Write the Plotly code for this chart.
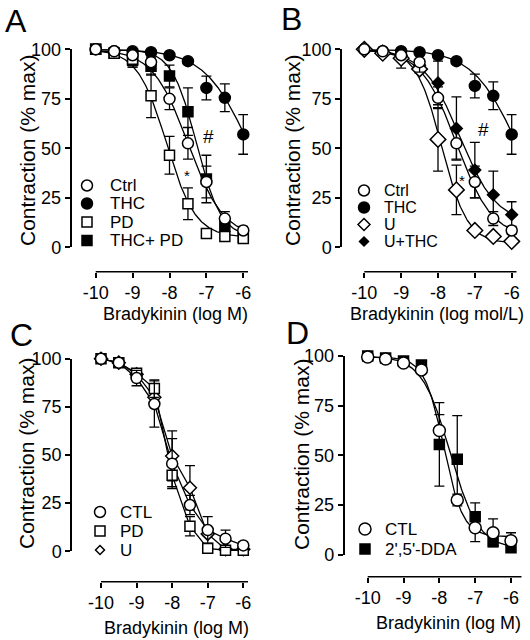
import numpy as np
import plotly.graph_objects as go

W, H = 530, 640
FONT = "Liberation Sans, Arial, sans-serif"

# ---------------- data ----------------
log_conc = [-10, -9.5, -9, -8.5, -8, -7.5, -7, -6.5, -6]
x_ticks = [-10, -9, -8, -7, -6]
y_ticks = [0, 25, 50, 75, 100]

# Panel A
a_ctrl = [100, 99, 97, 93.5, 75, 52.5, 33, 14.5, 8.5]
a_ctrl_err = [0, 0.5, 1, 1.5, 5.5, 8, 8, 3.5, 2]
a_thc = [100, 99, 99, 98.5, 97, 94, 80.5, 75.5, 57]
a_thc_err = [0, 0, 0.5, 0.5, 1, 1, 6, 7, 10]
a_pd = [100, 98, 95, 76.5, 46.5, 22, 7, 5.5, 4.5]
a_pd_err = [0, 1, 4, 11, 9.5, 8, 1, 1, 1]
a_thcpd = [100, 98, 94.5, 91.5, 86.5, 68.5, 34.5, 10.5, 5]
a_thcpd_err = [0, 1, 3.5, 4.5, 5.5, 12, 12, 3, 1.5]

# Panel B
b_ctrl = [100, 99, 97, 93.5, 75.5, 52.5, 33, 14.5, 8.5]
b_ctrl_err = [0, 0.5, 1, 5, 5.5, 8, 8, 3.5, 2]
b_thc = [100, 99, 99, 98.5, 97, 94, 81.5, 76.5, 57]
b_thc_err = [0, 0, 0.5, 0.5, 1, 1, 6, 7, 10]
b_u = [100, 98, 95.5, 90, 54.5, 29, 8.5, 5.5, 3]
b_u_err = [0, 1, 5, 2, 16, 12.5, 1, 1, 1]
b_uthc = [100, 99, 97, 92, 83, 60, 39, 26.5, 16.5]
b_uthc_err = [0, 0.5, 2, 3, 11, 16, 14, 12, 6.5]

# Panel C
c_ctl = [100, 98, 90, 76.5, 45.5, 24, 11, 6.5, 3]
c_ctl_err = [0, 1, 4, 12, 13, 5, 7, 4.5, 2]
c_pd = [100, 98, 92.5, 84.5, 39.5, 13, 1.5, 0.5, 0.5]
c_pd_err = [0, 1, 2, 4.5, 6, 5, 1, 0.5, 0.5]
c_u = [100, 98, 92, 80, 49.5, 33, 9, 1, 1]
c_u_err = [0, 1, 2, 4, 13, 11.5, 1, 0.5, 0.5]

# Panel D
d_ctl = [99.5, 98.5, 96.5, 93, 62.5, 27.5, 13.5, 11, 7]
d_ctl_err = [0.5, 0.5, 1, 1.5, 8, 3, 7, 7, 4]
d_dda = [100, 99, 97.5, 95.5, 55.5, 48, 19, 6.5, 3.5]
d_dda_err = [0, 0.5, 1, 1, 21, 22, 7, 2, 1.5]

# sigmoid fit parameters: (top, bottom, logIC50, hill slope)
fit_a_ctrl = (100, 5, -7.5, 0.9)
fit_a_thc = (100, 0, -5.8, 0.7)
fit_a_pd = (100, 5, -8.08, 1.1)
fit_a_thcpd = (100, 5, -7.27, 1.3)
fit_b_u = (100, 2, -7.9, 1.25)
fit_b_uthc = (100, 12, -7.41, 0.87)
fit_d_ctl = (99.5, 9, -7.88, 1.6)
fit_d_dda = (100, 3, -7.7, 1.1)

labels_a = ["Ctrl", "THC", "PD", "THC+ PD"]
labels_b = ["Ctrl", "THC", "U", "U+THC"]
labels_c = ["CTL", "PD", "U"]
labels_d = ["CTL", "2',5'-DDA"]

# ---------------- helpers (window pixels -> paper) ----------------
def fx(px):
    return px / W

def fy(py):
    return 1 - py / H

fig = go.Figure()
shapes = []
annotations = []

# panel geometry in window pixels
panels = {
    "A": dict(ax=71.5, y100=49.3, y0=247.3, xline=271.7, xm10=95.7, xm6=243.3, xend=248.0),
    "B": dict(ax=342.0, y100=49.3, y0=247.3, xline=271.7, xm10=364.3, xm6=511.7, xend=516.7),
    "C": dict(ax=72.0, y100=358.8, y0=551.2, xline=581.7, xm10=101.0, xm6=243.3, xend=248.0),
    "D": dict(ax=344.5, y100=356.0, y0=554.6, xline=576.7, xm10=367.7, xm6=511.0, xend=521.7),
}
axis_ids = {"A": "", "B": "2", "C": "3", "D": "4"}

layout_axes = {}
for key, g in panels.items():
    sfx = axis_ids[key]
    per_unit = (g["xm6"] - g["xm10"]) / 4.0
    x_end = -10 + (g["xend"] - g["xm10"]) / per_unit
    x_left = -10 - (g["xm10"] - g["ax"]) / per_unit
    layout_axes["xaxis" + sfx] = dict(
        domain=[fx(g["ax"]), fx(g["xend"])], range=[x_left, x_end],
        anchor="free", position=fy(g["xline"]), automargin=False,
        tickvals=x_ticks, ticktext=[str(t) for t in x_ticks],
        ticks="outside", ticklen=5, tickwidth=1.5, tickcolor="black",
        showline=False, showgrid=False, zeroline=False,
        tickfont=dict(family=FONT, size=18, color="black"),
    )
    layout_axes["yaxis" + sfx] = dict(
        domain=[fy(g["y0"]), fy(g["y100"])], range=[0, 100],
        anchor="x" + sfx, automargin=False,
        tickvals=y_ticks, ticktext=[str(t) for t in y_ticks],
        ticks="outside", ticklen=5, tickwidth=1.5, tickcolor="black",
        showline=True, linecolor="black", linewidth=1.5,
        showgrid=False, zeroline=False,
        tickfont=dict(family=FONT, size=18, color="black"),
    )
    # offset x-axis baseline, running from -10 to the end of the axis
    shapes.append(dict(type="line", xref="x" + sfx, yref="paper",
                       x0=-10, x1=x_end, y0=fy(g["xline"]), y1=fy(g["xline"]),
                       line=dict(color="black", width=1.5)))

grid = np.linspace(-10, -6, 241)

def fit_curve(params):
    top, bottom, logic50, hill = params
    return bottom + (top - bottom) / (1 + 10 ** ((grid - logic50) * hill))

def add_curve(params, key):
    sfx = axis_ids[key]
    fig.add_trace(go.Scatter(
        x=grid, y=fit_curve(params), mode="lines",
        line=dict(color="black", width=1.3),
        xaxis="x" + sfx, yaxis="y" + sfx, showlegend=False, hoverinfo="skip"))

def add_lines(vals, key):
    sfx = axis_ids[key]
    fig.add_trace(go.Scatter(
        x=log_conc, y=vals, mode="lines",
        line=dict(color="black", width=1.3),
        xaxis="x" + sfx, yaxis="y" + sfx, showlegend=False, hoverinfo="skip"))

def add_points(vals, err, key, symbol, filled, size, name):
    sfx = axis_ids[key]
    fig.add_trace(go.Scatter(
        x=log_conc, y=vals, mode="markers", name=name,
        marker=dict(symbol=symbol, size=size,
                    color="black" if filled else "white",
                    line=dict(color="black", width=1.5)),
        error_y=dict(type="data", array=err, color="black", thickness=1.3, width=5),
        cliponaxis=False, xaxis="x" + sfx, yaxis="y" + sfx, showlegend=False))

# Panel A
for p in (fit_a_ctrl, fit_a_thc, fit_a_pd, fit_a_thcpd):
    add_curve(p, "A")
add_points(a_thc, a_thc_err, "A", "circle", True, 11, labels_a[1])
add_points(a_thcpd, a_thcpd_err, "A", "square", True, 10, labels_a[3])
add_points(a_pd, a_pd_err, "A", "square", False, 10, labels_a[2])
add_points(a_ctrl, a_ctrl_err, "A", "circle", False, 11, labels_a[0])

# Panel B
for p in (fit_a_ctrl, fit_a_thc, fit_b_u, fit_b_uthc):
    add_curve(p, "B")
add_points(b_thc, b_thc_err, "B", "circle", True, 11, labels_b[1])
add_points(b_uthc, b_uthc_err, "B", "diamond", True, 9, labels_b[3])
add_points(b_u, b_u_err, "B", "diamond", False, 12, labels_b[2])
add_points(b_ctrl, b_ctrl_err, "B", "circle", False, 11, labels_b[0])

# Panel C (points joined by straight lines)
for v in (c_u, c_pd, c_ctl):
    add_lines(v, "C")
add_points(c_u, c_u_err, "C", "diamond", False, 10, labels_c[2])
add_points(c_pd, c_pd_err, "C", "square", False, 10, labels_c[1])
add_points(c_ctl, c_ctl_err, "C", "circle", False, 11, labels_c[0])

# Panel D
for p in (fit_d_ctl, fit_d_dda):
    add_curve(p, "D")
add_points(d_dda, d_dda_err, "D", "square", True, 10, labels_d[1])
add_points(d_ctl, d_ctl_err, "D", "circle", False, 12, labels_d[0])

# ---------------- text ----------------
def text(px, py, s, size, xanchor="center", angle=0):
    annotations.append(dict(
        x=fx(px), y=fy(py), xref="paper", yref="paper", text=s, showarrow=False,
        xanchor=xanchor, yanchor="middle", textangle=angle,
        font=dict(family=FONT, size=size, color="black")))

# panel letters
text(16, 21, "A", 32)
text(291, 19, "B", 32)
text(21, 335, "C", 32)
text(297, 333, "D", 32)

# y titles
text(27, 151, "Contraction (% max)", 21, angle=-90)
text(292, 151, "Contraction (% max)", 21, angle=-90)
text(26, 454, "Contraction (% max)", 21, angle=-90)
text(301, 455, "Contraction (% max)", 21, angle=-90)

# x titles
text(175, 313.5, "Bradykinin (log M)", 18)
text(437, 313.5, "Bradykinin (log mol/L)", 18)
text(176, 628, "Bradykinin (log M)", 18)
text(448, 623, "Bradykinin (log M)", 18)

# significance marks
text(208, 136, "#", 19)
text(187, 175, "*", 15)
text(483, 129, "#", 19)
text(462, 180, "*", 15)

# legends (symbol shapes + text)
def sym(cx, cy, kind, filled, size):
    r = size / 2.0
    fill = "black" if filled else "white"
    line = dict(color="black", width=1.5)
    if kind == "circle":
        shapes.append(dict(type="circle", xref="paper", yref="paper",
                           x0=fx(cx - r), x1=fx(cx + r), y0=fy(cy + r), y1=fy(cy - r),
                           fillcolor=fill, line=line))
    elif kind == "square":
        shapes.append(dict(type="rect", xref="paper", yref="paper",
                           x0=fx(cx - r), x1=fx(cx + r), y0=fy(cy + r), y1=fy(cy - r),
                           fillcolor=fill, line=line))
    else:
        path = (f"M {fx(cx)},{fy(cy - r)} L {fx(cx + r)},{fy(cy)} "
                f"L {fx(cx)},{fy(cy + r)} L {fx(cx - r)},{fy(cy)} Z")
        shapes.append(dict(type="path", xref="paper", yref="paper", path=path,
                           fillcolor=fill, line=line))

legend_specs = [
    (87, 108, [185.5, 203.5, 222, 240.5], labels_a, 17,
     [("circle", False, 11), ("circle", True, 11), ("square", False, 10), ("square", True, 10)]),
    (364, 382, [190.5, 207.5, 224.5, 241.5], labels_b, 16,
     [("circle", False, 11), ("circle", True, 11), ("diamond", False, 12), ("diamond", True, 9)]),
    (100, 118, [512, 531, 550], labels_c, 17,
     [("circle", False, 11), ("square", False, 10), ("diamond", False, 9)]),
    (365, 383, [529, 549], labels_d, 17,
     [("circle", False, 12), ("square", True, 10)]),
]
for sx, tx, rows, labs, fsize, syms in legend_specs:
    for ry, lab, (kind, filled, size) in zip(rows, labs, syms):
        sym(sx, ry, kind, filled, size)
        text(tx, ry, lab, fsize, xanchor="left")

fig.update_layout(
    width=W, height=H, margin=dict(l=0, r=0, t=0, b=0, autoexpand=False),
    paper_bgcolor="white", plot_bgcolor="white",
    font=dict(family=FONT, size=18, color="black"),
    showlegend=False, annotations=annotations, shapes=shapes,
    **layout_axes)

# remove the browser's default 8px page margin so the figure fills the window exactly
fig.write_html("out.html", config={"displayModeBar": False},
               post_script="document.body.style.margin='0px';")
